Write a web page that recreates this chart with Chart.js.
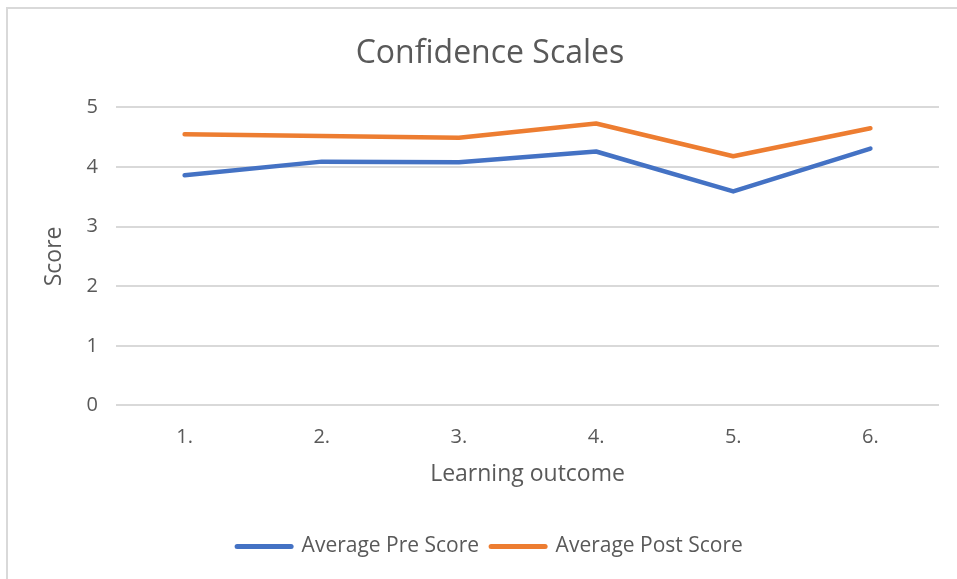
<!DOCTYPE html>
<html>
<head>
<meta charset="utf-8">
<script src="https://cdn.jsdelivr.net/npm/chart.js@4"></script>
<style>
  body { margin: 0; background: #fff; }
  #wrap { position: relative; width: 957px; height: 579px; overflow: hidden; }
  #frame {
    position: absolute; left: 6px; top: 7px; width: 1000px; height: 1000px;
    border-left: 2px solid #d9d9d9; border-top: 2px solid #d9d9d9;
    pointer-events: none;
  }
</style>
</head>
<body>
<div id="wrap">
  <canvas id="chart" width="957" height="579"></canvas>
  <div id="frame"></div>
</div>
<script>
// data
const outcomes = ['1.', '2.', '3.', '4.', '5.', '6.'];
const preScores = [3.86, 4.09, 4.08, 4.26, 3.59, 4.31];
const postScores = [4.55, 4.52, 4.49, 4.73, 4.18, 4.65];
const yTicks = [0, 1, 2, 3, 4, 5];

const textColor = '#595959';
const gridColor = '#d9d9d9';

Chart.defaults.font.family = '"Open Sans", sans-serif';
Chart.defaults.color = textColor;

function makeSet(label, data, color) {
  return {
    label: label,
    data: data,
    borderColor: color,
    backgroundColor: color,
    borderWidth: 4.5,
    borderCapStyle: 'round',
    borderJoinStyle: 'round',
    pointRadius: 0,
    tension: 0,
  };
}

const ctx = document.getElementById('chart').getContext('2d');
new Chart(ctx, {
  type: 'line',
  data: {
    labels: outcomes,
    datasets: [
      makeSet('Average Pre Score', preScores, '#4472C4'),
      makeSet('Average Post Score', postScores, '#ED7D31'),
    ],
  },
  options: {
    responsive: false,
    animation: false,
    layout: { padding: { top: 21, right: 18, bottom: 12, left: 41 } },
    plugins: {
      title: {
        display: true,
        text: 'Confidence Scales',
        color: textColor,
        font: { size: 32, weight: 'normal' },
        padding: { top: 14, bottom: 34 },
      },
      legend: {
        position: 'bottom',
        labels: {
          usePointStyle: true,
          pointStyleWidth: 54,
          boxHeight: 5,
          padding: 12,
          color: textColor,
          font: { size: 21 },
          generateLabels: (chart) => {
            const items = Chart.defaults.plugins.legend.labels.generateLabels(chart);
            items.forEach(it => {
              it.pointStyle = 'line';
              it.lineWidth = 5;
              it.lineCap = 'round';
            });
            return items;
          },
        },
      },
      tooltip: { enabled: false },
    },
    scales: {
      x: {
        offset: true,
        grid: { display: false, drawTicks: false },
        border: { display: false },
        ticks: { font: { size: 20 }, color: textColor, padding: 20 },
        title: {
          display: true,
          text: 'Learning outcome',
          color: textColor,
          font: { size: 23 },
          padding: { top: -9, bottom: 36 },
        },
      },
      y: {
        min: 0,
        max: 5,
        afterBuildTicks: (axis) => { axis.ticks = yTicks.map(v => ({ value: v })); },
        grid: { color: gridColor, lineWidth: 2, drawTicks: false },
        border: { display: false },
        ticks: { font: { size: 20 }, color: textColor, padding: 18 },
        title: {
          display: true,
          text: 'Score',
          color: textColor,
          font: { size: 23 },
          padding: { top: 0, bottom: 0 },
        },
      },
    },
  },
});
</script>
</body>
</html>
